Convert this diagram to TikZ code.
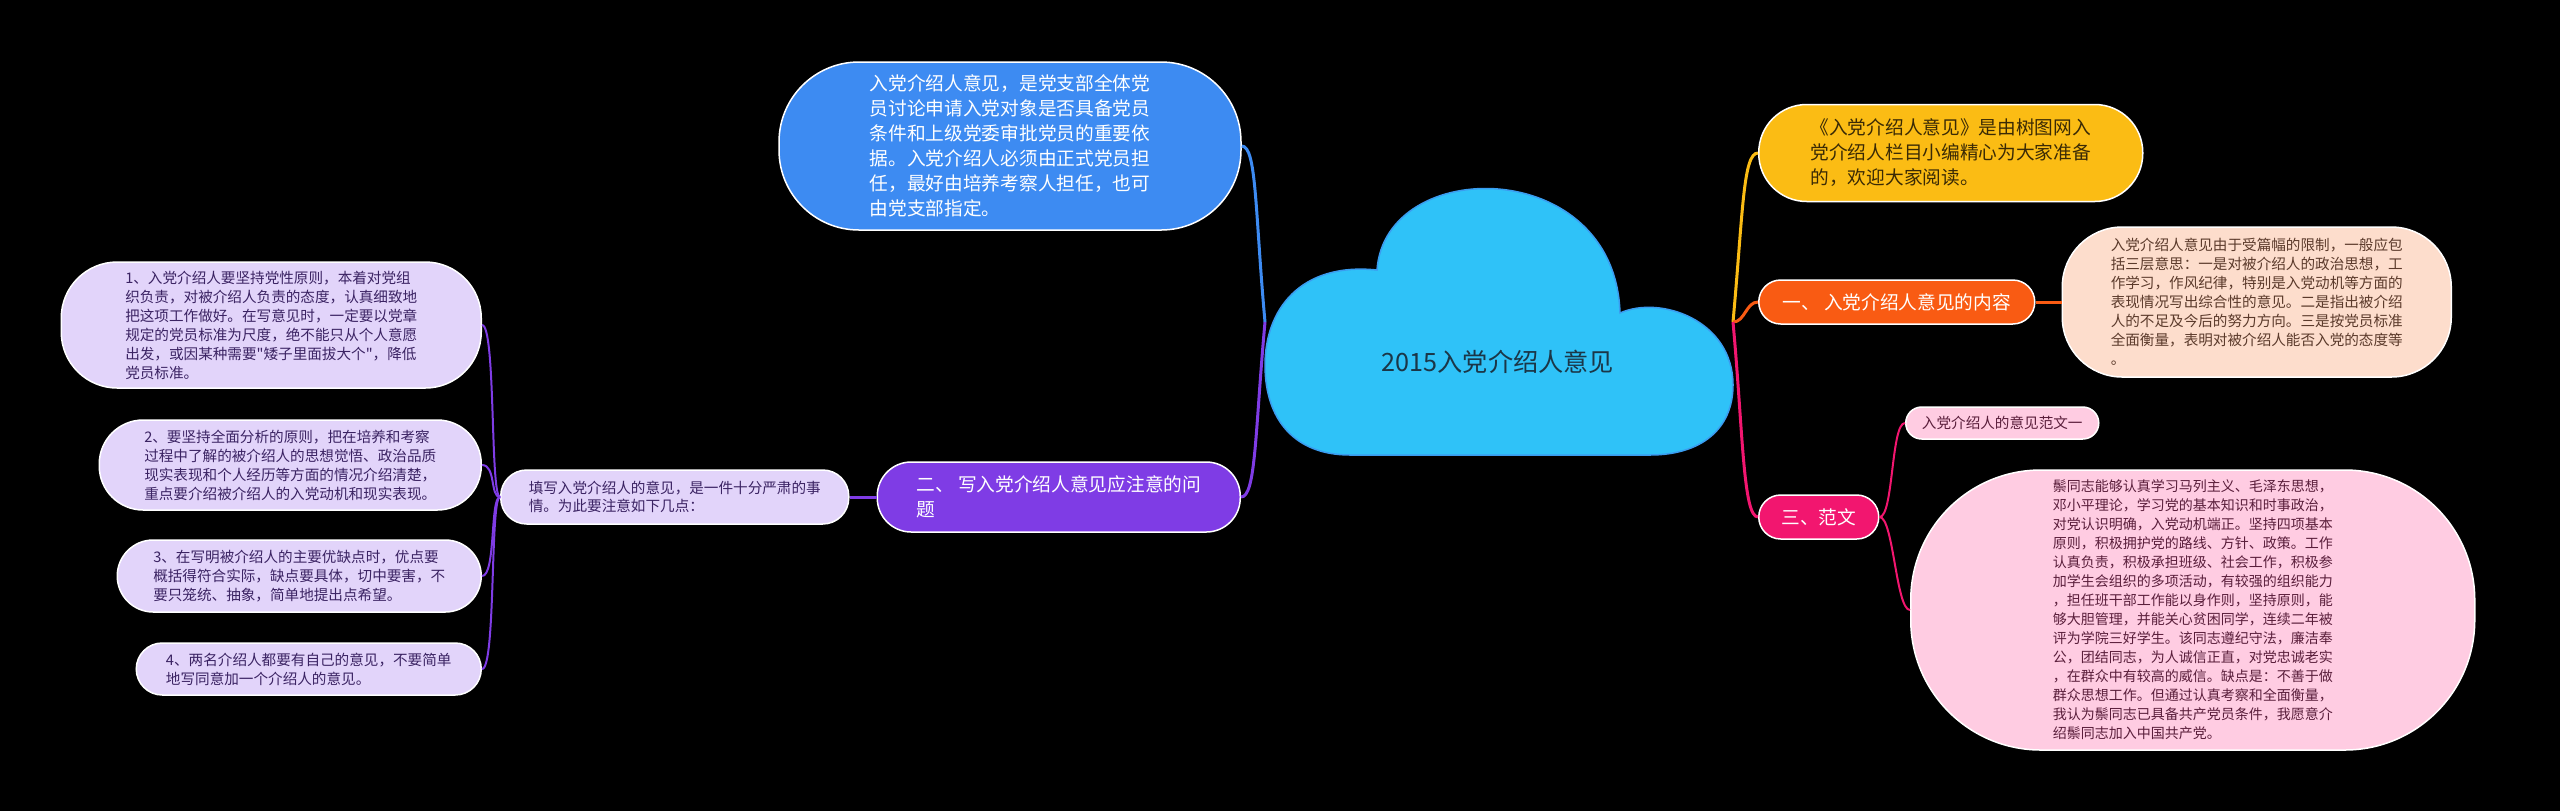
\documentclass[tikz,border=0pt]{standalone}
\usepackage{fontspec}
\setmainfont{Noto Sans CJK SC}[Ligatures=TeXOff]
\usetikzlibrary{positioning}

\definecolor{cloudblue}{HTML}{2FC2F8}
\definecolor{cloudedge}{HTML}{3A9CF0}
\definecolor{titletext}{HTML}{1B3647}
\definecolor{introblue}{HTML}{3D8BF2}
\definecolor{purplebr}{HTML}{7F3CE5}
\definecolor{lavender}{HTML}{E2D4FA}
\definecolor{lavtext}{HTML}{3B2363}
\definecolor{sumyellow}{HTML}{FBBC14}
\definecolor{sumtext}{HTML}{3A2A05}
\definecolor{orangebr}{HTML}{F95B13}
\definecolor{peach}{HTML}{FDDDCC}
\definecolor{peachtext}{HTML}{5B3A2B}
\definecolor{pinkbr}{HTML}{F2166F}
\definecolor{pinklight}{HTML}{FFCCE2}
\definecolor{pinktext}{HTML}{5A1E3B}

\begin{document}
\begin{tikzpicture}[x=0.5pt, y=-0.5pt, node distance=0,
  branch/.style={draw=white, line width=0.75pt, text=white, align=left, inner sep=0pt, font=\fontsize{9.35}{12.5}\selectfont},
  leaf/.style={draw=white, line width=0.75pt, align=left, inner sep=0pt, font=\fontsize{7.3}{9.5}\selectfont},
  link/.style={line width=1.5pt},
  sublink/.style={line width=1pt}]

\useasboundingbox (0,0) rectangle (2560,811);
\fill[black] (0,0) rectangle (2560,811);

\fill[cloudblue, draw=cloudedge, line width=0.75pt] (1350,455) .. controls (1295,455) and (1265,420) .. (1265,365)
  .. controls (1265,310) and (1300,262) .. (1377,270) .. controls (1385,155) and (1615,155) .. (1620,313)
  .. controls (1660,295) and (1733,320) .. (1733,385) .. controls (1733,430) and (1700,455) .. (1650,455) -- cycle;
\node[font=\fontsize{12.6}{15}\selectfont, text=titletext] (title) at (1498,362) {2015入党介绍人意见};
\coordinate (cloudL) at (1265,322);
\coordinate (cloudR) at (1733,322);

\node[branch, fill=introblue, minimum width=231pt, minimum height=84pt, rounded corners=40pt](intro) at (1010,146)
  {入党介绍人意见，是党支部全体党\\员讨论申请入党对象是否具备党员\\条件和上级党委审批党员的重要依\\据。入党介绍人必须由正式党员担\\任，最好由培养考察人担任，也可\\由党支部指定。};

\node[branch, fill=purplebr, minimum width=181.5pt, minimum height=35pt, rounded corners=17pt, anchor=east](rules) at (1241,497)
  {二、 写入党介绍人意见应注意的问\\题};
\node[leaf, fill=lavender, text=lavtext, minimum width=174pt, minimum height=27pt, rounded corners=13pt, font=\fontsize{7.3}{9}\selectfont](rulesIntro)[left=13.5pt of rules]
  {填写入党介绍人的意见，是一件十分严肃的事\\情。为此要注意如下几点：};

\node[leaf, fill=lavender, text=lavtext, minimum width=210pt, minimum height=63pt, rounded corners=28pt, anchor=east](ruleOne) at (482,325)
  {1、入党介绍人要坚持党性原则，本着对党组\\织负责，对被介绍人负责的态度，认真细致地\\把这项工作做好。在写意见时，一定要以党章\\规定的党员标准为尺度，绝不能只从个人意愿\\出发，或因某种需要"矮子里面拔大个"，降低\\党员标准。};
\node[leaf, fill=lavender, text=lavtext, minimum width=191pt, minimum height=45pt, rounded corners=22pt, anchor=east](ruleTwo) at (482,465)
  {2、要坚持全面分析的原则，把在培养和考察\\过程中了解的被介绍人的思想觉悟、政治品质\\现实表现和个人经历等方面的情况介绍清楚，\\重点要介绍被介绍人的入党动机和现实表现。};
\node[leaf, fill=lavender, text=lavtext, minimum width=182pt, minimum height=36pt, rounded corners=18pt, anchor=east](ruleThree) at (482,576)
  {3、在写明被介绍人的主要优缺点时，优点要\\概括得符合实际，缺点要具体，切中要害，不\\要只笼统、抽象，简单地提出点希望。};
\node[leaf, fill=lavender, text=lavtext, minimum width=172.5pt, minimum height=26pt, rounded corners=13pt, anchor=east](ruleFour) at (482,669)
  {4、两名介绍人都要有自己的意见，不要简单\\地写同意加一个介绍人的意见。};

\node[branch, fill=sumyellow, text=sumtext, minimum width=192pt, minimum height=48.5pt, rounded corners=24pt, anchor=west](summary) at (1758,153)
  {《入党介绍人意见》是由树图网入\\党介绍人栏目小编精心为大家准备\\的，欢迎大家阅读。};

\node[branch, fill=orangebr, minimum width=138pt, minimum height=22pt, rounded corners=11pt, anchor=west](content) at (1758,302)
  {一、 入党介绍人意见的内容};
\node[leaf, fill=peach, text=peachtext, minimum width=194.5pt, minimum height=75pt, rounded corners=30pt](contentText)[right=13pt of content]
  {入党介绍人意见由于受篇幅的限制，一般应包\\括三层意思：一是对被介绍人的政治思想，工\\作学习，作风纪律，特别是入党动机等方面的\\表现情况写出综合性的意见。二是指出被介绍\\人的不足及今后的努力方向。三是按党员标准\\全面衡量，表明对被介绍人能否入党的态度等\\。};

\node[branch, fill=pinkbr, minimum width=60pt, minimum height=22pt, rounded corners=11pt, anchor=west](sample) at (1758,517)
  {三、范文};
\node[leaf, fill=pinklight, text=pinktext, minimum width=96.5pt, minimum height=16pt, rounded corners=8pt, anchor=west](sampleTitle) at (1905,423)
  {入党介绍人的意见范文一};
\node[leaf, fill=pinklight, text=pinktext, minimum width=282pt, minimum height=140pt, rounded corners=65pt, anchor=west, font=\fontsize{7}{9.5}\selectfont](sampleText) at (1910,610)
  {鬃同志能够认真学习马列主义、毛泽东思想，\\邓小平理论，学习党的基本知识和时事政治，\\对党认识明确，入党动机端正。坚持四项基本\\原则，积极拥护党的路线、方针、政策。工作\\认真负责，积极承担班级、社会工作，积极参\\加学生会组织的多项活动，有较强的组织能力\\，担任班干部工作能以身作则，坚持原则，能\\够大胆管理，并能关心贫困同学，连续二年被\\评为学院三好学生。该同志遵纪守法，廉洁奉\\公，团结同志，为人诚信正直，对党忠诚老实\\，在群众中有较高的威信。缺点是：不善于做\\群众思想工作。但通过认真考察和全面衡量，\\我认为鬃同志已具备共产党员条件，我愿意介\\绍鬃同志加入中国共产党。};

\draw[link, introblue] (cloudL) .. controls +(-10,-110) and +(15,0) .. (intro.east);
\draw[link, purplebr] (cloudL) .. controls +(-10,110) and +(15,0) .. (rules.east);
\draw[link, sumyellow] (cloudR) .. controls +(10,-110) and +(-15,0) .. (summary.west);
\draw[link, orangebr] (cloudR) .. controls +(12,0) and +(-12,0) .. (content.west);
\draw[link, pinkbr] (cloudR) .. controls +(10,110) and +(-15,0) .. (sample.west);

\draw[link, purplebr] (rules.west) -- (rulesIntro.east);
\draw[sublink, purplebr] (rulesIntro.west) .. controls +(-10,0) and +(14,0) .. (ruleOne.east);
\draw[sublink, purplebr] (rulesIntro.west) .. controls +(-10,0) and +(14,0) .. (ruleTwo.east);
\draw[sublink, purplebr] (rulesIntro.west) .. controls +(-10,0) and +(14,0) .. (ruleThree.east);
\draw[sublink, purplebr] (rulesIntro.west) .. controls +(-10,0) and +(14,0) .. (ruleFour.east);

\draw[link, orangebr] (content.east) -- (contentText.west);
\draw[sublink, pinkbr] (sample.east) .. controls +(14,0) and +(-14,0) .. (sampleTitle.west);
\draw[sublink, pinkbr] (sample.east) .. controls +(14,0) and +(-14,0) .. (sampleText.west);

\end{tikzpicture}
\end{document}
